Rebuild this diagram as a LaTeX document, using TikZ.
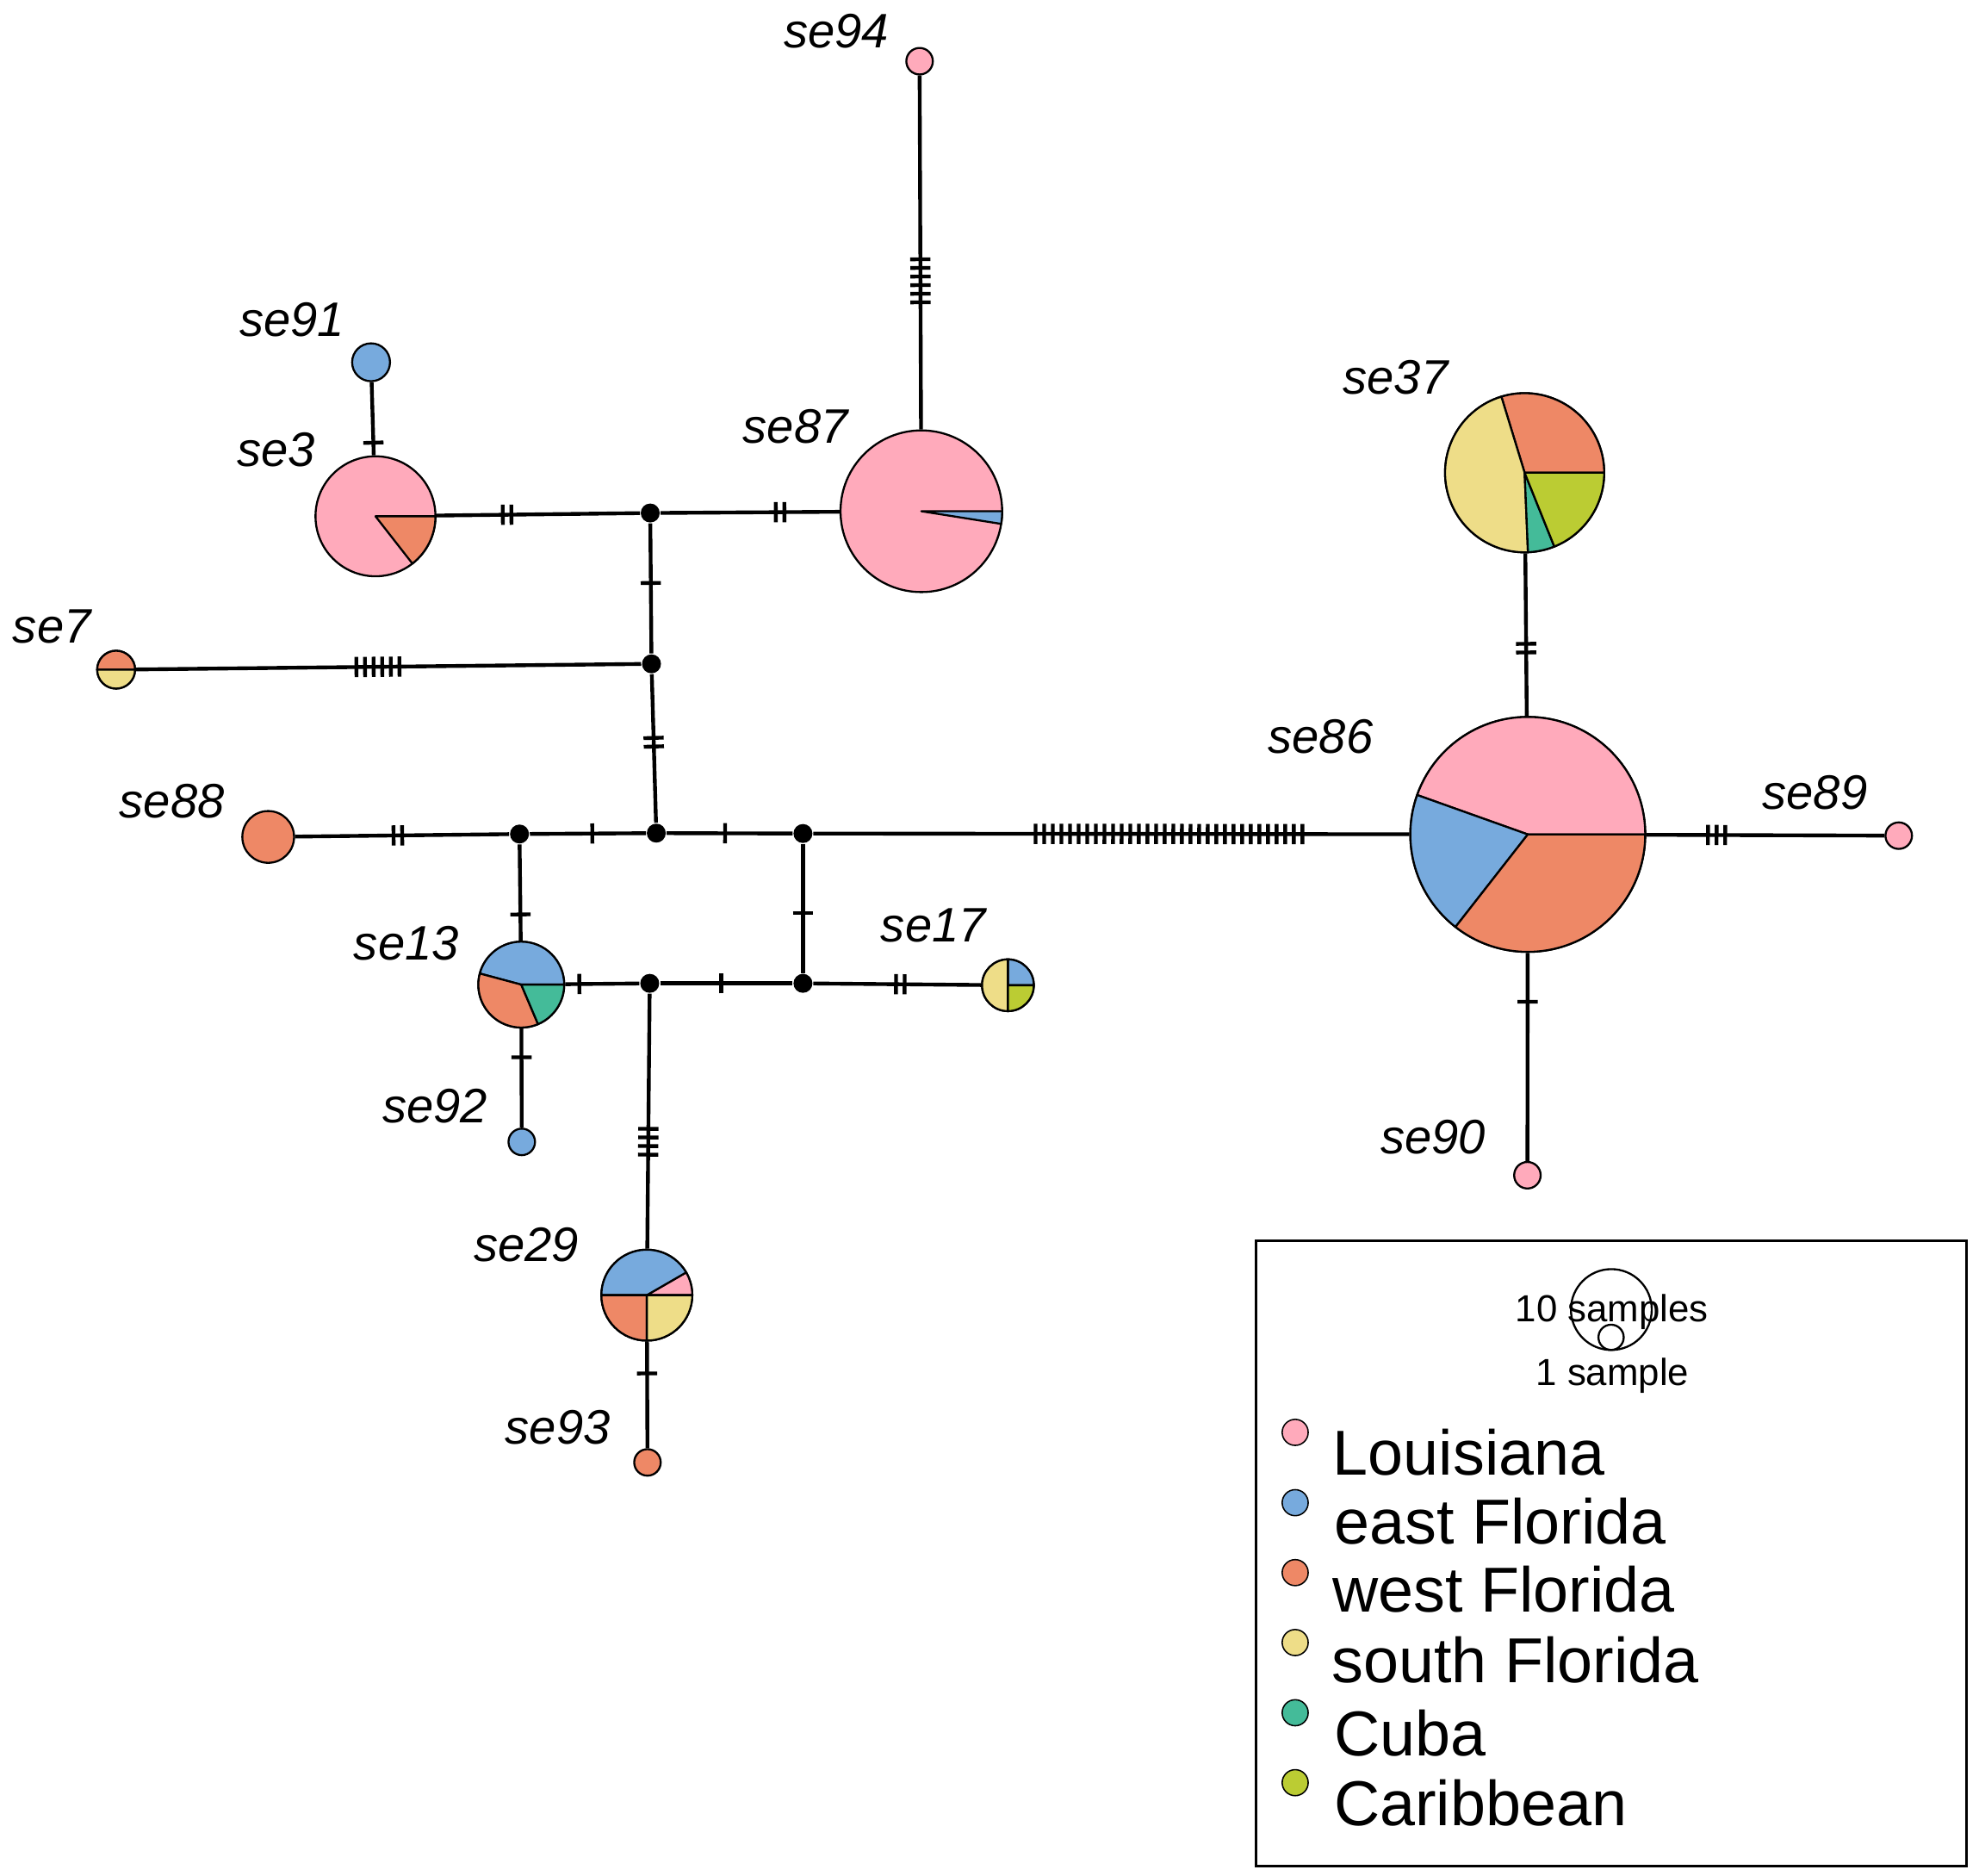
\documentclass[tikz,border=0pt]{standalone}
\usepackage{fontspec}
\setmainfont{Liberation Sans}
\usetikzlibrary{calc}
\definecolor{cLA}{HTML}{FFAABB}
\definecolor{cEF}{HTML}{77AADD}
\definecolor{cWF}{HTML}{EE8866}
\definecolor{cSF}{HTML}{EEDD88}
\definecolor{cCU}{HTML}{44BB99}
\definecolor{cCA}{HTML}{BBCC33}
\newcount\tkcnt
\newcommand\tkbar[1]{\tkcnt=0\relax\loop\rule[-0.08cm]{0.85pt}{0.16cm}\advance\tkcnt by 1\relax\ifnum\tkcnt<#1\kern1.09pt\repeat}
\newcommand\wdg[5]{\filldraw[fill=#5, draw=black, line width=0.45pt, line join=round] (#1.center) -- ++(#3:#2) arc[start angle=#3, end angle=#4, radius=#2] -- cycle;}
\tikzset{
  hap/.style={circle, draw=black, line width=0.45pt, inner sep=0pt, minimum size=#1},
  mv/.style={circle, fill=black, inner sep=0pt, minimum size=0.15cm},
  edge/.style={line width=0.85pt},
  mut/.style={sloped, inner sep=0pt, outer sep=0pt, anchor=center},
  lab/.style={font=\fontsize{10.9}{13}\selectfont\itshape, inner sep=0pt, anchor=base west},
  legtxt/.style={font=\fontsize{14.3}{17}\selectfont, inner sep=0pt, anchor=base west},
  smalltxt/.style={font=\fontsize{8.5}{10}\selectfont, inner sep=0pt, anchor=base},
  legdot/.style={circle, draw=black, line width=0.3pt, inner sep=0pt, minimum size=0.206cm}
}
\begin{document}
\begin{tikzpicture}[x=0.01cm,y=-0.01cm]
\useasboundingbox (0,0) rectangle (1568,1486.1);

% haplotype nodes
\node[hap=0.21cm, fill=cLA] (se94) at (728.6,48.5) {};
\node[hap=1.28cm, fill=cLA] (se87) at (730,405) {};
\node[hap=0.30cm, fill=cEF] (se91) at (294,287) {};
\node[hap=0.95cm, fill=cLA] (se3) at (297.5,409) {};
\node[hap=0.30cm] (se7) at (92,530.5) {};
\node[hap=0.41cm, fill=cWF] (se88) at (212.5,663) {};
\node[hap=0.68cm] (se13) at (413,780) {};
\node[hap=0.21cm, fill=cEF] (se92) at (413.4,904.6) {};
\node[hap=0.72cm] (se29) at (512.5,1026) {};
\node[hap=0.21cm, fill=cWF] (se93) at (513,1158.5) {};
\node[hap=0.41cm] (se17) at (798.6,780.5) {};
\node[hap=1.26cm] (se37) at (1208,374.5) {};
\node[hap=1.86cm] (se86) at (1210.5,661) {};
\node[hap=0.21cm, fill=cLA] (se89) at (1504.4,662) {};
\node[hap=0.21cm, fill=cLA] (se90) at (1210.2,931) {};

% median vectors
\node[mv] (m1) at (515.2,406.4) {};
\node[mv] (m2) at (516.2,525.9) {};
\node[mv] (m3) at (520,660) {};
\node[mv] (m4) at (411.6,660.7) {};
\node[mv] (m5) at (636.2,660.3) {};
\node[mv] (m6) at (514.8,779) {};
\node[mv] (m7) at (636.2,779) {};

% pie wedges
\wdg{se3}{0.475cm}{-52}{0}{cWF}
\wdg{se87}{0.64cm}{-9}{0}{cEF}
\wdg{se7}{0.15cm}{0}{180}{cWF}
\wdg{se7}{0.15cm}{180}{360}{cSF}
\wdg{se13}{0.34cm}{0}{165}{cEF}
\wdg{se13}{0.34cm}{165}{293}{cWF}
\wdg{se13}{0.34cm}{293}{360}{cCU}
\wdg{se29}{0.36cm}{0}{30}{cLA}
\wdg{se29}{0.36cm}{30}{180}{cEF}
\wdg{se29}{0.36cm}{180}{270}{cWF}
\wdg{se29}{0.36cm}{270}{360}{cSF}
\wdg{se17}{0.205cm}{0}{90}{cEF}
\wdg{se17}{0.205cm}{90}{270}{cSF}
\wdg{se17}{0.205cm}{270}{360}{cCA}
\wdg{se37}{0.63cm}{0}{107}{cWF}
\wdg{se37}{0.63cm}{107}{272.4}{cSF}
\wdg{se37}{0.63cm}{272.4}{291.9}{cCU}
\wdg{se37}{0.63cm}{291.9}{360}{cCA}
\wdg{se86}{0.93cm}{0}{160.4}{cLA}
\wdg{se86}{0.93cm}{160.4}{232}{cEF}
\wdg{se86}{0.93cm}{232}{360}{cWF}

% connectors
\draw[edge] (se94) -- (se87);
\draw[edge] (m1) -- (se87);
\draw[edge] (se3) -- (m1);
\draw[edge] (se91) -- (se3);
\draw[edge] (m1) -- (m2);
\draw[edge] (se7) -- (m2);
\draw[edge] (m2) -- (m3);
\draw[edge] (se88) -- (m4);
\draw[edge] (m4) -- (m3);
\draw[edge] (m3) -- (m5);
\draw[edge] (m5) -- (se86);
\draw[edge] (m4) -- (se13);
\draw[edge] (se13) -- (m6);
\draw[edge] (m6) -- (m7);
\draw[edge] (m5) -- (m7);
\draw[edge] (m7) -- (se17);
\draw[edge] (se13) -- (se92);
\draw[edge] (m6) -- (se29);
\draw[edge] (se29) -- (se93);
\draw[edge] (se37) -- (se86);
\draw[edge] (se86) -- (se89);
\draw[edge] (se86) -- (se90);

% mutation ticks
\path (se94.center) -- (se87.center) node[mut, pos=0.488] {\tkbar{6}};
\path (m1.center) -- (se87.center) node[mut, pos=0.479] {\tkbar{2}};
\path (se3.center) -- (m1.center) node[mut, pos=0.479] {\tkbar{2}};
\path (se91.center) -- (se3.center) node[mut, pos=0.522] {\tkbar{1}};
\path (m1.center) -- (m2.center) node[mut, pos=0.464] {\tkbar{1}};
\path (se7.center) -- (m2.center) node[mut, pos=0.489] {\tkbar{6}};
\path (m2.center) -- (m3.center) node[mut, pos=0.463] {\tkbar{2}};
\path (se88.center) -- (m4.center) node[mut, pos=0.516] {\tkbar{2}};
\path (m4.center) -- (m3.center) node[mut, pos=0.532] {\tkbar{1}};
\path (m3.center) -- (m5.center) node[mut, pos=0.469] {\tkbar{1}};
\path (m5.center) -- (se86.center) node[mut, pos=0.505] {\tkbar{32}};
\path (m4.center) -- (se13.center) node[mut, pos=0.534] {\tkbar{1}};
\path (se13.center) -- (m6.center) node[mut, pos=0.452] {\tkbar{1}};
\path (m6.center) -- (m7.center) node[mut, pos=0.466] {\tkbar{1}};
\path (m5.center) -- (m7.center) node[mut, pos=0.531] {\tkbar{1}};
\path (m7.center) -- (se17.center) node[mut, pos=0.475] {\tkbar{2}};
\path (se13.center) -- (se92.center) node[mut, pos=0.462] {\tkbar{1}};
\path (m6.center) -- (se29.center) node[mut, pos=0.508] {\tkbar{4}};
\path (se29.center) -- (se93.center) node[mut, pos=0.468] {\tkbar{1}};
\path (se37.center) -- (se86.center) node[mut, pos=0.485] {\tkbar{2}};
\path (se86.center) -- (se89.center) node[mut, pos=0.509] {\tkbar{3}};
\path (se86.center) -- (se90.center) node[mut, pos=0.491] {\tkbar{1}};

% labels
\node[lab] (lse94) at (620.5,37.6) {se94};
\node[lab] (lse91) at (189,266.8) {se91};
\node[lab] (lse3) at (187,369.6) {se3};
\node[lab] (lse87) at (588,350.9) {se87};
\node[lab] (lse7) at (9.5,509.5) {se7};
\node[lab] (lse88) at (94,647.7) {se88};
\node[lab] (lse13) at (279.7,760.8) {se13};
\node[lab] (lse17) at (697.3,746) {se17};
\node[lab] (lse92) at (302.3,889.3) {se92};
\node[lab] (lse29) at (374.7,999.6) {se29};
\node[lab] (lse93) at (399.7,1144) {se93};
\node[lab] (lse37) at (1063.4,312.5) {se37};
\node[lab] (lse86) at (1004,597) {se86};
\node[lab] (lse89) at (1395.7,640.8) {se89};
\node[lab] (lse90) at (1093.2,914.3) {se90};

% legend
\draw[line width=0.6pt] (994.9,983) rectangle (1558.4,1478);
\node[hap=0.64cm] (big) at (1276.7,1037.4) {};
\node[hap=0.20cm] (small) at (1276.5,1059.4) {};
\node[smalltxt] (l10) at (1277.2,1047.3) {10 samples};
\node[smalltxt] (l1) at (1277.6,1097.4) {1 sample};
\node[legdot, fill=cLA] (d1) at (1026.2,1134.7) {};
\node[legdot, fill=cEF] (d2) at (1026.2,1190.4) {};
\node[legdot, fill=cWF] (d3) at (1026.2,1245.8) {};
\node[legdot, fill=cSF] (d4) at (1026.2,1301.2) {};
\node[legdot, fill=cCU] (d5) at (1026.2,1356.8) {};
\node[legdot, fill=cCA] (d6) at (1026.2,1412.2) {};
\node[legtxt] (t1) at (1055.5,1168.3) {Louisiana};
\node[legtxt] (t2) at (1056.5,1223.4) {east Florida};
\node[legtxt] (t3) at (1055.3,1277.1) {west Florida};
\node[legtxt] (t4) at (1054.5,1333.1) {south Florida};
\node[legtxt] (t5) at (1056.3,1390.8) {Cuba};
\node[legtxt] (t6) at (1056.3,1446.2) {Caribbean};
\end{tikzpicture}
\end{document}
